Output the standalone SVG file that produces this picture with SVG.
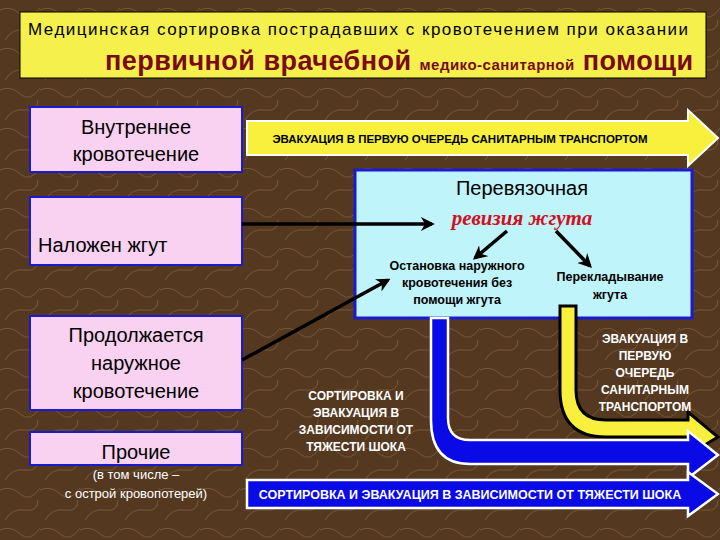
<svg xmlns="http://www.w3.org/2000/svg" width="720" height="540" viewBox="0 0 720 540">
<defs>
<marker id="ah" viewBox="0 0 10 10" refX="8" refY="5" markerWidth="4" markerHeight="4" orient="auto"><path d="M0,0 L10,5 L0,10 L3,5 z" fill="#000"/></marker>
<pattern id="tex" width="40" height="40" patternUnits="userSpaceOnUse"><rect width="40" height="40" fill="#54381f"/><path d="M0,10 Q10,5 20,14 T40,8 M5,40 Q12,28 25,30 T38,20" stroke="#8a6a4a" stroke-width="1" fill="none" opacity="0.6"/></pattern>
</defs>
<style>
.s{font-family:"Liberation Sans",Arial,sans-serif}
.box{fill:#f8d2f0;stroke:#1a1ad0;stroke-width:2}
.bt{font-family:"Liberation Sans",Arial,sans-serif;font-size:20px;text-anchor:middle;fill:#000}
.wt{font-family:"Liberation Sans",Arial,sans-serif;font-size:12px;font-weight:bold;fill:#fff;text-anchor:middle}
.ct{font-family:"Liberation Sans",Arial,sans-serif;font-size:12.5px;font-weight:bold;fill:#000;text-anchor:middle}
.ln{stroke:#000;stroke-width:3.5;fill:none;marker-end:url(#ah)}
</style>
<rect width="720" height="540" fill="url(#tex)"/>
<g id="title">
<rect x="20" y="12" width="686" height="66" fill="#f6f04c" stroke="#000" stroke-width="1"/>
<text x="28" y="35" class="s" font-size="17" fill="#000" textLength="660">Медицинская сортировка пострадавших с кровотечением при оказании</text>
<text x="105" y="70" class="s" font-size="27" font-weight="bold" fill="#7a0a1a" textLength="588">первичной врачебной <tspan font-size="15">медико-санитарной</tspan> помощи</text>
</g>
<g id="n1"><rect class="box" x="30" y="107" width="212" height="65"/><text class="bt" x="136" y="134">Внутреннее</text><text class="bt" x="136" y="161">кровотечение</text></g>
<g id="n2"><rect class="box" x="30" y="197" width="212" height="68"/><text class="bt" x="38" y="252" style="text-anchor:start">Наложен жгут</text></g>
<g id="n3"><rect class="box" x="30" y="316" width="212" height="94"/><text class="bt" x="136" y="342">Продолжается</text><text class="bt" x="136" y="370">наружное</text><text class="bt" x="136" y="398">кровотечение</text></g>
<g id="n4"><rect class="box" x="30" y="432" width="212" height="33"/><text class="bt" x="136" y="459">Прочие</text>
<text x="136" y="479" class="s" font-size="13" fill="#fff" text-anchor="middle">(в том числе –</text><text x="136" y="498" class="s" font-size="13" fill="#fff" text-anchor="middle">с острой кровопотерей)</text></g>
<g id="dress">
<rect x="355" y="170" width="337" height="148" fill="#bff4fa" stroke="#1a1ad0" stroke-width="3"/>
<text x="522" y="195" class="s" font-size="20" text-anchor="middle" fill="#000">Перевязочная</text>
<text x="522" y="225" font-family="Liberation Serif,serif" font-size="21" font-style="italic" font-weight="bold" text-anchor="middle" fill="#d01020">ревизия жгута</text>
<text class="ct" x="457" y="270">Остановка наружного</text><text class="ct" x="457" y="287">кровотечения без</text><text class="ct" x="457" y="304">помощи жгута</text>
<text class="ct" x="610" y="281">Перекладывание</text><text class="ct" x="610" y="299">жгута</text>
</g>
<g id="connectors">
<path d="M247,121 H688 V110 L718,138 L688,166 V155 H247 Z" fill="#f8f03c" stroke="#fff" stroke-width="2"/>
<text x="460" y="143" class="s" font-size="11.5" font-weight="bold" text-anchor="middle" fill="#000">ЭВАКУАЦИЯ В ПЕРВУЮ  ОЧЕРЕДЬ САНИТАРНЫМ ТРАНСПОРТОМ</text>
<path d="M560,306 H576 V390 Q576,420 606,420 H688 V412 L718,437 L688,455 V437 H606 Q560,437 560,390 Z" fill="#f8f03c" stroke="#000" stroke-width="3"/>
<path d="M431,318 H448 V418 Q448,440 470,440 H688 V431 L718,455 L688,478 V464 H470 Q431,464 431,420 Z" fill="#0a0ae6" stroke="#fff" stroke-width="2.5"/>
<path d="M247,480 H688 V472 L718,494 L688,516 V508 H247 Z" fill="#0a0ae6" stroke="#fff" stroke-width="2.5"/>
<text x="470" y="499" class="s" font-size="12.5" font-weight="bold" text-anchor="middle" fill="#fff">СОРТИРОВКА И ЭВАКУАЦИЯ В ЗАВИСИМОСТИ ОТ ТЯЖЕСТИ ШОКА</text>
<text class="wt" x="356" y="400">СОРТИРОВКА И</text><text class="wt" x="356" y="417">ЭВАКУАЦИЯ В</text><text class="wt" x="356" y="434">ЗАВИСИМОСТИ ОТ</text><text class="wt" x="356" y="451">ТЯЖЕСТИ ШОКА</text>
<text class="wt" x="645" y="343">ЭВАКУАЦИЯ В</text><text class="wt" x="645" y="360">ПЕРВУЮ</text><text class="wt" x="645" y="377">ОЧЕРЕДЬ</text><text class="wt" x="645" y="394">САНИТАРНЫМ</text><text class="wt" x="645" y="411">ТРАНСПОРТОМ</text>
<line class="ln" x1="242" y1="224" x2="432" y2="224"/>
<line class="ln" x1="507" y1="231" x2="475" y2="258"/>
<line class="ln" x1="556" y1="231" x2="590" y2="266"/>
<line class="ln" x1="242" y1="360" x2="388" y2="280"/>
</g>
</svg>
